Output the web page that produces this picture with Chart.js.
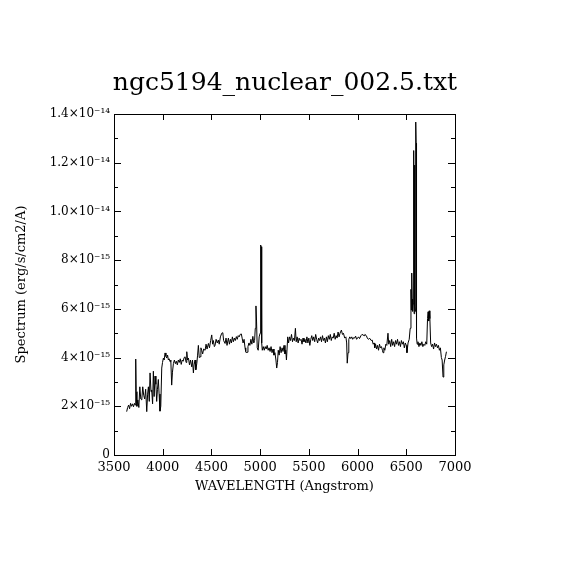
<!DOCTYPE html>
<html><head><meta charset="utf-8">
<script src="https://cdn.jsdelivr.net/npm/chart.js@4/dist/chart.umd.min.js"></script>
<style>html,body{margin:0;padding:0;background:#fff}canvas{display:block}</style>
</head><body>
<canvas id="c" width="570" height="570"></canvas>
<script>
const chartTitle = "ngc5194_nuclear_002.5.txt";
const xTitle = "WAVELENGTH (Angstrom)";
const yTitle = "Spectrum (erg/s/cm2/A)";
const xTicks = [3500, 4000, 4500, 5000, 5500, 6000, 6500, 7000];
const yTickUnits = [0, 2, 4, 6, 8, 10, 12, 14]; // in 1e-15
const wavelength = [
3630,3640,3650,3660,3670,3680,3690,3700,3710,3718,3723,3728,3735,3745,3755,3765,3775,3785,3795,3805,
3815,3825,3836,3845,3853,3862,3870,3880,3887,3896,3904,3912,3921,3930,3938,3946,3955,3963,3972,3980,
3990,3998,4007,4015,4024,4033,4041,4050,4058,4066,4075,4083,4092,4100,4110,4120,4130,4140,4150,4160,
4170,4180,4190,4200,4210,4220,4230,4240,4247,4255,4264,4275,4285,4298,4306,4315,4322,4332,4340,4350,
4358,4366,4375,4383,4392,4400,4410,4420,4435,4445,4455,4469,4480,4492,4503,4512,4520,4530,4537,4548,
4560,4571,4580,4592,4606,4617,4625,4640,4650,4660,4674,4685,4695,4705,4715,4725,4735,4745,4756,4765,
4775,4785,4795,4807,4815,4825,4835,4845,4852,4859,4866,4875,4885,4895,4905,4915,4925,4935,4943,4950,
4957,4963,4970,4980,4990,5000,5005,5011,5016,5022,5032,5042,5052,5062,5072,5082,5092,5102,5112,5122,
5132,5142,5152,5162,5170,5178,5186,5195,5205,5215,5225,5235,5245,5255,5263,5270,5283,5292,5302,5312,
5322,5332,5342,5352,5362,5370,5380,5390,5400,5410,5420,5430,5440,5450,5460,5470,5480,5490,5500,5510,
5520,5530,5540,5550,5560,5570,5580,5590,5600,5610,5620,5630,5640,5650,5660,5670,5680,5690,5700,5710,
5720,5730,5740,5750,5760,5770,5780,5790,5800,5810,5820,5834,5845,5855,5868,5880,5888,5894,5902,5910,
5920,5930,5940,5950,5960,5970,5980,5990,6000,6010,6020,6035,6045,6056,6066,6075,6090,6100,6110,6125,
6140,6150,6160,6170,6176,6185,6195,6205,6215,6225,6235,6245,6255,6261,6270,6280,6290,6300,6312,6320,
6330,6340,6350,6360,6370,6380,6390,6400,6410,6420,6430,6440,6450,6460,6470,6480,6490,6500,6507,6518,
6530,6540,6548,6552,6556,6560,6565,6570,6576,6580,6584,6588,6592,6597,6601,6605,6612,6620,6630,6640,
6650,6660,6670,6680,6690,6700,6710,6718,6724,6730,6736,6742,6750,6760,6770,6780,6790,6800,6810,6820,
6830,6840,6850,6860,6868,6877,6885,6894,6903,6912
];
const fluxE15 = [
1.78,1.95,2.05,1.90,2.12,2.00,2.10,1.98,2.12,2.05,3.94,2.60,2.00,2.26,1.95,2.80,2.30,2.26,2.80,2.45,
2.30,2.70,1.78,2.50,2.80,2.20,3.37,2.60,2.67,2.10,3.44,2.40,3.24,2.90,2.20,2.70,3.10,2.50,1.80,2.00,
3.57,3.80,3.98,3.90,4.19,4.05,3.98,4.10,3.90,3.95,3.83,3.90,2.87,3.40,3.76,3.90,3.75,3.85,3.70,3.90,
3.80,3.95,3.72,3.90,3.85,4.00,4.03,3.80,4.24,3.90,3.98,3.70,3.90,3.62,3.90,3.37,3.70,3.90,3.50,3.76,
4.10,4.50,4.00,4.03,4.40,4.30,4.15,4.35,4.30,4.55,4.35,4.58,4.40,4.70,4.93,4.55,4.70,4.45,4.50,4.75,
4.60,4.72,4.55,4.85,5.00,5.02,4.70,4.58,4.80,4.50,4.80,4.55,4.75,4.60,4.85,4.65,4.80,4.70,4.86,4.75,
4.90,4.85,4.95,4.97,4.80,4.60,4.75,4.40,4.25,4.19,4.22,4.45,4.60,4.50,4.75,4.55,4.87,4.60,4.70,5.20,
6.12,5.50,4.40,4.30,4.85,5.00,8.62,8.55,4.60,4.30,4.45,4.30,4.45,4.35,4.50,4.30,4.40,4.25,4.45,4.20,
4.35,4.10,4.20,3.90,3.57,3.80,4.30,4.10,4.45,4.20,4.40,4.25,4.50,4.15,4.30,3.90,4.85,4.60,4.85,4.70,
4.95,4.65,4.80,4.70,5.20,4.65,4.85,4.60,4.80,4.70,4.75,4.55,4.80,4.65,4.75,4.60,4.85,4.60,4.80,4.50,
4.75,4.90,4.70,4.85,4.65,4.95,4.75,4.60,4.80,4.70,4.85,4.65,4.90,4.70,4.80,4.60,4.85,4.65,4.90,4.75,
4.95,4.70,4.85,4.80,5.00,4.75,4.90,4.80,5.05,4.85,5.00,5.13,4.95,5.00,4.80,4.85,4.60,3.77,4.20,4.75,
4.85,4.78,4.85,4.75,4.82,4.80,4.88,4.75,4.80,4.85,4.78,4.90,4.95,4.93,4.90,4.95,4.90,4.80,4.75,4.79,
4.70,4.72,4.55,4.60,4.40,4.55,4.35,4.50,4.30,4.55,4.40,4.45,4.30,4.20,4.40,4.30,4.55,4.50,5.00,4.55,
4.70,4.45,4.75,4.50,4.65,4.45,4.70,4.55,4.75,4.50,4.65,4.45,4.70,4.55,4.65,4.40,4.60,4.50,4.20,4.60,
4.75,5.20,6.80,5.95,7.47,6.40,5.90,6.20,12.5,5.80,11.9,6.10,5.90,13.67,12.8,4.80,4.55,4.65,4.45,4.60,
4.50,4.65,4.45,4.55,4.50,4.65,4.55,5.60,5.88,5.50,5.92,5.60,4.60,4.45,4.55,4.35,4.60,4.45,4.55,4.40,
4.50,4.30,4.40,4.00,3.90,3.20,3.70,3.90,4.05,4.24
];

const FONT = "'DejaVu Serif', 'Liberation Serif', serif";
const sup = {'0':'⁰','1':'¹','2':'²','3':'³','4':'⁴','5':'⁵','6':'⁶','7':'⁷','8':'⁸','9':'⁹','-':'⁻'};
const toSup = s => s.split('').map(ch => sup[ch] || ch).join('');
function yLabel(v) {
  if (!yTickUnits.includes(v)) return '';
  if (v === 0) return '0';
  if (v >= 10) return (v / 10).toFixed(1) + '×10' + toSup('-14');
  return v + '×10' + toSup('-15');
}

const frame = {
  id: 'frame',
  afterDraw(chart) {
    const {ctx, chartArea: a, scales: {x, y}} = chart;
    ctx.save();
    ctx.strokeStyle = '#000';
    ctx.lineWidth = 1;
    ctx.strokeRect(Math.round(a.left) + 0.5, Math.round(a.top) + 0.5,
                   Math.round(a.right - a.left), Math.round(a.bottom - a.top));
    ctx.beginPath();
    xTicks.forEach(v => {
      const px = Math.round(x.getPixelForValue(v)) + 0.5;
      ctx.moveTo(px, a.bottom); ctx.lineTo(px, a.bottom - 6);
      ctx.moveTo(px, a.top); ctx.lineTo(px, a.top + 6);
    });
    y.ticks.forEach(t => {
      const py = Math.round(y.getPixelForValue(t.value)) + 0.5;
      const len = yTickUnits.includes(t.value) ? 7 : 4;
      ctx.moveTo(a.left, py); ctx.lineTo(a.left + len, py);
      ctx.moveTo(a.right, py); ctx.lineTo(a.right - len, py);
    });
    ctx.stroke();
    ctx.restore();
  }
};

new Chart(document.getElementById('c'), {
  type: 'line',
  data: {
    datasets: [{
      data: wavelength.map((w, i) => ({x: w, y: fluxE15[i]})),
      borderColor: '#000',
      borderWidth: 1,
      pointRadius: 0,
      tension: 0,
      fill: false
    }]
  },
  options: {
    responsive: false,
    devicePixelRatio: 1,
    animation: false,
    layout: {padding: 0},
    plugins: {
      legend: {display: false},
      tooltip: {enabled: false},
      title: {
        display: true, text: chartTitle, color: '#000',
        font: {family: FONT, size: 25, weight: 'normal', lineHeight: 1.2},
        padding: {top: 68, bottom: 16}
      }
    },
    scales: {
      x: {
        type: 'linear', min: 3500, max: 7000,
        afterFit: s => { s.height = 115; },
        afterBuildTicks: s => { s.ticks = xTicks.map(v => ({value: v})); },
        grid: {display: false, drawTicks: false},
        border: {display: false},
        ticks: {color: '#000', font: {family: FONT, size: 13}, padding: 5, maxRotation: 0,
                autoSkip: false, callback: v => String(v)},
        title: {display: true, text: xTitle, color: '#000',
                font: {family: FONT, size: 13}, padding: {top: 76, bottom: 76}}
      },
      y: {
        type: 'linear', min: 0, max: 14,
        afterFit: s => { s.width = 114; },
        grid: {display: false, drawTicks: false},
        border: {display: false},
        ticks: {stepSize: 1, color: '#000', font: {family: FONT, size: 12}, padding: 4,
                autoSkip: false, callback: v => yLabel(v)},
        title: {display: true, text: yTitle, color: '#000',
                font: {family: FONT, size: 13}, padding: {top: 14, bottom: 14}}
      },
      yRight: {
        type: 'linear', position: 'right', min: 0, max: 14,
        afterFit: s => { s.width = 115; },
        grid: {display: false, drawTicks: false},
        border: {display: false},
        ticks: {display: false}
      }
    }
  },
  plugins: [frame]
});
</script>
</body></html>
